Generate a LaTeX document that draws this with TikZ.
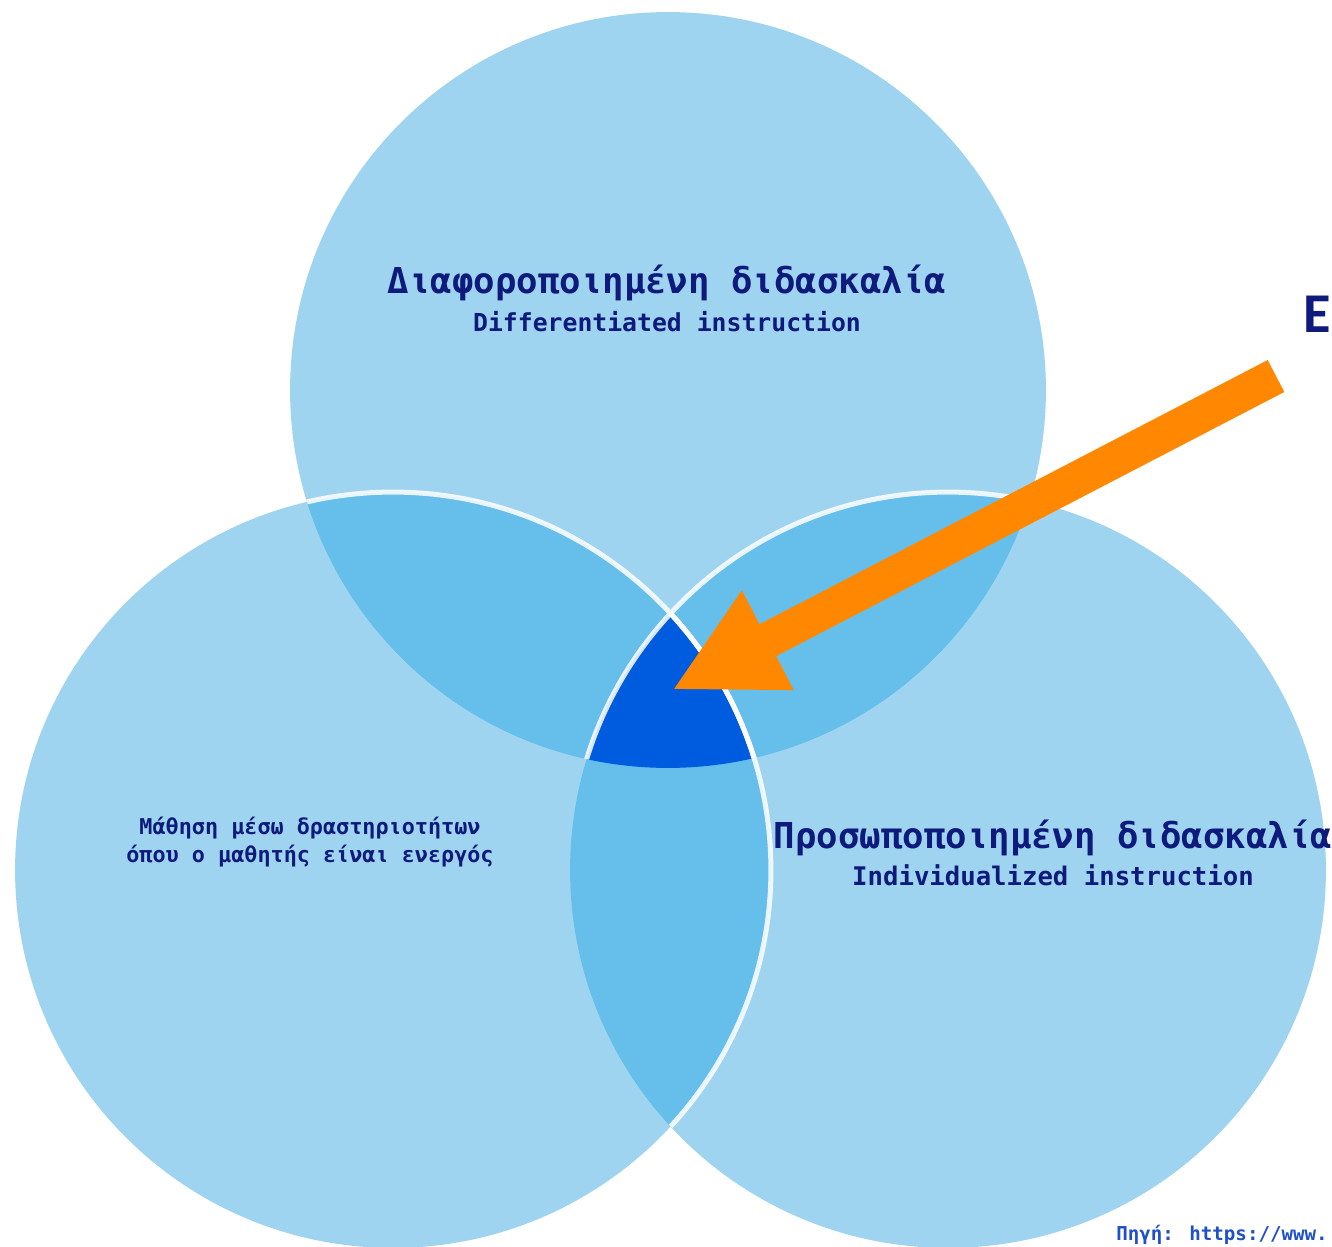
\documentclass[tikz,border=0pt]{standalone}
\usepackage{fontspec}
\newfontfamily\vennfont{DejaVu Sans Mono}
\newfontfamily\headfont{Carlito}
\usetikzlibrary{arrows.meta}
\definecolor{lightblue}{RGB}{158,212,240}
\definecolor{midblue}{RGB}{102,190,234}
\definecolor{deepblue}{RGB}{0,92,222}
\definecolor{navytext}{RGB}{14,26,124}
\definecolor{linkblue}{RGB}{30,80,200}
\definecolor{arroworange}{RGB}{255,136,0}
\begin{document}
\begin{tikzpicture}[x=0.02cm,y=-0.02cm,
    rim/.style={white,line width=0.1cm,opacity=0.85},
    lbl/.style={anchor=base,text=navytext,font=\vennfont\bfseries,inner sep=0pt}]
  \useasboundingbox[fill=white] (0,0) rectangle (1332,1247);
  % the three circles
  \coordinate (ctop) at (668,390);
  \coordinate (cleft) at (393,870);
  \coordinate (cright) at (948,870);
  \fill[lightblue] (ctop) circle[radius=7.56cm] (cleft) circle[radius=7.56cm]
                   (cright) circle[radius=7.56cm];
  % overlaps of two
  \begin{scope}
    \clip (ctop) circle[radius=7.56cm];
    \fill[midblue] (cleft) circle[radius=7.56cm] (cright) circle[radius=7.56cm];
  \end{scope}
  \begin{scope}
    \clip (cleft) circle[radius=7.56cm];
    \fill[midblue] (cright) circle[radius=7.56cm];
  \end{scope}
  % overlap of all three
  \begin{scope}
    \clip (ctop) circle[radius=7.56cm];
    \clip (cleft) circle[radius=7.56cm];
    \fill[deepblue] (cright) circle[radius=7.56cm];
  \end{scope}
  % white rims
  \begin{scope}
    \clip (ctop) circle[radius=7.56cm];
    \draw[rim] (cleft) circle[radius=7.56cm] (cright) circle[radius=7.56cm];
  \end{scope}
  \begin{scope}
    \clip (cright) circle[radius=7.56cm];
    \draw[rim] (cleft) circle[radius=7.56cm];
  \end{scope}
  % labels
  \node[lbl,font=\vennfont\bfseries\fontsize{20.3}{24}\selectfont] (diaf) at (667,293) {Διαφοροποιημένη διδασκαλία};
  \node[lbl,font=\vennfont\bfseries\fontsize{14.1}{17}\selectfont] (diffen) at (667,331) {Differentiated instruction};
  \node[lbl,font=\vennfont\bfseries\fontsize{12.4}{15}\selectfont] (mathisi) at (310,834) {Μάθηση μέσω δραστηριοτήτων};
  \node[lbl,font=\vennfont\bfseries\fontsize{12.4}{15}\selectfont] (energos) at (310,862) {όπου ο μαθητής είναι ενεργός};
  \node[lbl,font=\vennfont\bfseries\fontsize{20.3}{24}\selectfont] (prosop) at (1053,848) {Προσωποποιημένη διδασκαλία};
  \node[lbl,font=\vennfont\bfseries\fontsize{14.6}{17}\selectfont] (indiv) at (1053,885) {Individualized instruction};
  \node[lbl,anchor=base west,text=linkblue,font=\vennfont\bfseries\fontsize{10.9}{13}\selectfont] (pigi) at (1116,1240) {Πηγή: https://www.};
  \node[lbl,anchor=base west,font=\headfont\bfseries\fontsize{32}{36}\selectfont] (ebig) at (1303,332) {Ε};
  % the arrow
  \coordinate (atail) at (1276,376);
  \coordinate (ahead) at (672,690);
  \draw[arroworange,line width=0.72cm,-{Triangle[length=2.16cm,width=2.08cm]}] (atail) -- (ahead);
\end{tikzpicture}
\end{document}
